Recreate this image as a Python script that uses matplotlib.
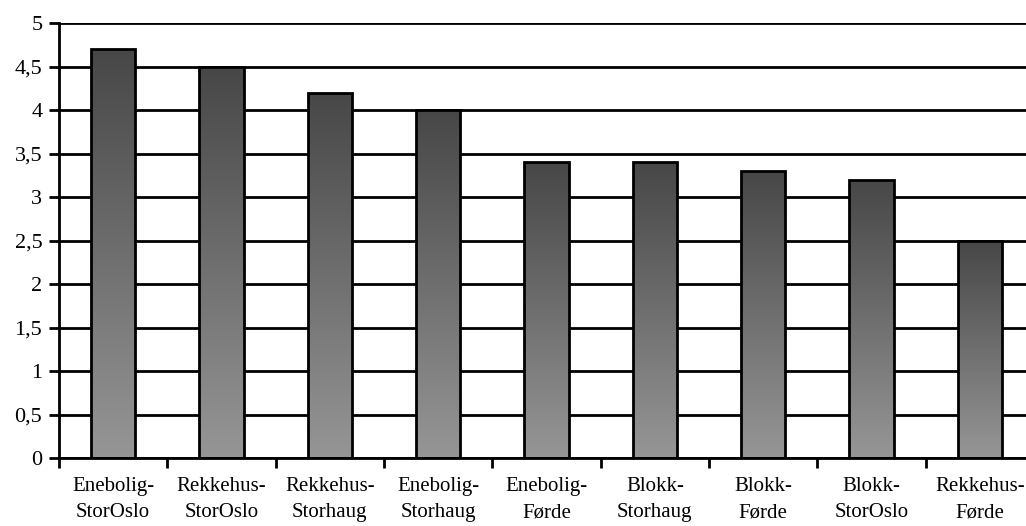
import numpy as np
import matplotlib.pyplot as plt
from matplotlib.colors import LinearSegmentedColormap
from matplotlib.ticker import FuncFormatter

categories = ['Enebolig-\nStorOslo', 'Rekkehus-\nStorOslo', 'Rekkehus-\nStorhaug',
              'Enebolig-\nStorhaug', 'Enebolig-\nFørde', 'Blokk-\nStorhaug',
              'Blokk-\nFørde', 'Blokk-\nStorOslo', 'Rekkehus-\nFørde']
values = [4.7, 4.5, 4.2, 4.0, 3.4, 3.4, 3.3, 3.2, 2.5]

plt.rcParams['font.family'] = ['Liberation Serif', 'DejaVu Serif']

fig = plt.figure(figsize=(10.26, 5.26), dpi=100)
ax = fig.add_axes([59 / 1026, 68 / 526, 975 / 1026, 435 / 526])

x = np.arange(len(values))
width = 0.41
bars = ax.bar(x, values, width=width, color='none', edgecolor='black',
              linewidth=2, zorder=3)

# vertical grey gradient inside every bar, dark at the top
cmap = LinearSegmentedColormap.from_list('bargrad', ['#969696', '#474747'])
grad = np.linspace(0, 1, 256).reshape(-1, 1)
for b in bars:
    x0, y0 = b.get_x(), b.get_y()
    w, h = b.get_width(), b.get_height()
    im = ax.imshow(grad, cmap=cmap, aspect='auto', origin='lower',
                   extent=[x0, x0 + w, y0, y0 + h], zorder=2)
    im.set_clip_path(b)

ax.set_xlim(-0.5, len(values) - 0.5)
ax.set_ylim(0, 5)
ax.set_yticks(np.arange(0, 5.01, 0.5))
ax.yaxis.set_major_formatter(FuncFormatter(
    lambda v, p: ('%g' % v).replace('.', ',')))
ax.grid(axis='y', color='black', linewidth=2, zorder=1)
ax.set_axisbelow(True)

ax.set_xticks(x)
ax.set_xticklabels(categories, fontsize=15, linespacing=1.5)
ax.tick_params(axis='x', length=0, pad=14)
ax.set_xticks(np.arange(-0.5, len(values), 1.0), minor=True)
ax.tick_params(axis='x', which='minor', length=7, width=2, direction='out')
ax.tick_params(axis='y', labelsize=16, length=7, width=2, direction='out', pad=5)

for s in ['top', 'right']:
    ax.spines[s].set_visible(False)
ax.spines['left'].set_linewidth(2)
ax.spines['bottom'].set_linewidth(2)
ax.spines['bottom'].set_zorder(4)

fig.savefig('out.png', dpi=100)
